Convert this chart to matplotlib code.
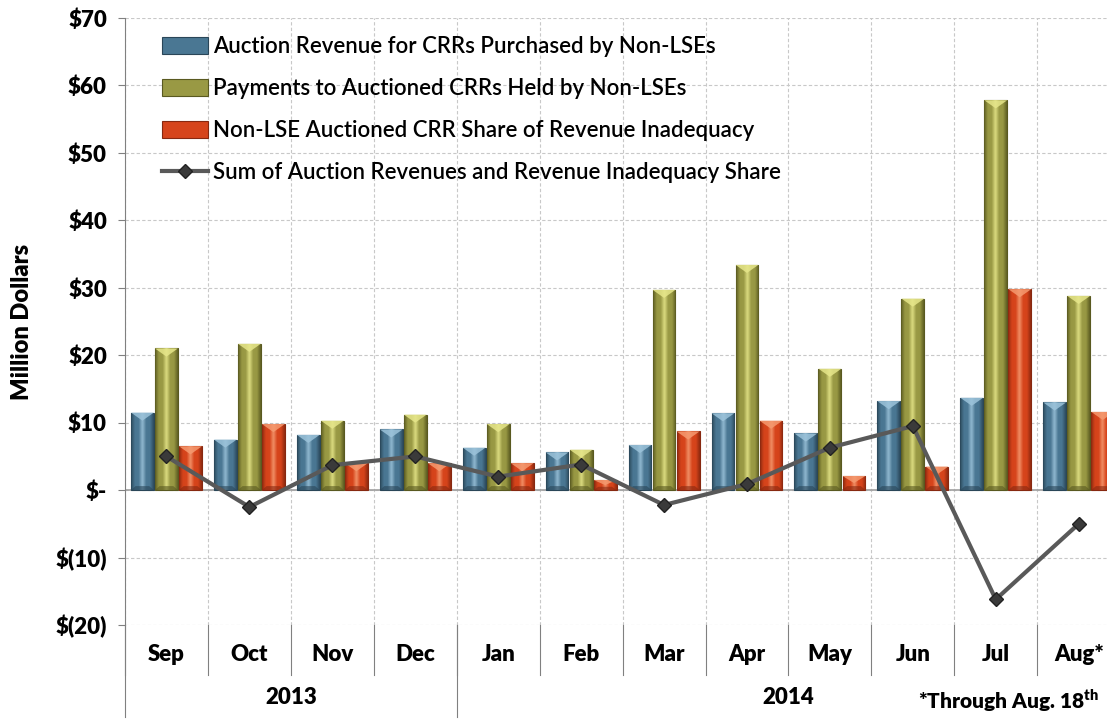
import numpy as np
import matplotlib
matplotlib.use("Agg")
import matplotlib.pyplot as plt
from matplotlib.colors import LinearSegmentedColormap
from matplotlib.patches import Polygon
from matplotlib.transforms import blended_transform_factory

plt.rcParams['font.family'] = ['Lato', 'DejaVu Sans']

months = ["Sep", "Oct", "Nov", "Dec", "Jan", "Feb", "Mar", "Apr", "May", "Jun", "Jul", "Aug*"]
years = ["2013", "2014"]
year_spans = [(0, 4), (4, 12)]

auction_rev = [11.5, 7.5, 8.2, 9.0, 6.3, 5.6, 6.7, 11.4, 8.4, 13.2, 13.7, 13.0]
payments = [21.0, 21.7, 10.3, 11.2, 9.8, 6.0, 29.7, 33.4, 18.0, 28.4, 57.8, 28.8]
inadequacy = [6.5, 9.8, 4.0, 4.0, 4.0, 1.5, 8.7, 10.3, 2.1, 3.5, 29.8, 11.6]
sum_line = [5.0, -2.5, 3.7, 5.0, 2.0, 3.8, -2.2, 0.9, 6.3, 9.5, -16.2, -5.0]

labels = ["Auction Revenue for CRRs Purchased by Non-LSEs",
          "Payments to Auctioned CRRs Held by Non-LSEs",
          "Non-LSE Auctioned CRR Share of Revenue Inadequacy",
          "Sum of Auction Revenues and Revenue Inadequacy Share"]

# (dark, main, light) for the bevelled look
styles = [("#2a4658", "#4a7793", "#9cc3da"),
          ("#595920", "#999944", "#e6e68a"),
          ("#872810", "#d6441b", "#f59a70")]

fig = plt.figure(figsize=(11.07, 7.23), dpi=100)
ax = fig.add_axes([0.1129, 0.1355, 0.899, 0.8396])

x = np.arange(len(months))
w = 0.29
series = [auction_rev, payments, inadequacy]
handles = []
for i, (vals, (dk, mn, lt)) in enumerate(zip(series, styles)):
    bars = ax.bar(x + (i - 1) * w, vals, w * 0.95, color=mn, edgecolor=dk, linewidth=0.8,
                  zorder=3, label=labels[i])
    cmap = LinearSegmentedColormap.from_list("b", [dk, mn, mn, lt, mn, mn, dk])
    grad = np.linspace(0, 1, 64).reshape(1, -1)
    for p in bars.patches:
        bx, by, bw, bh = p.get_x(), p.get_y(), p.get_width(), p.get_height()
        im = ax.imshow(grad, cmap=cmap, extent=(bx, bx + bw, by, by + bh),
                       aspect="auto", zorder=3.1, interpolation="bicubic", alpha=0.9)
        im.set_clip_path(p)
        d = min(1.2, bh / 2)
        tri = Polygon([(bx, by + bh), (bx + bw, by + bh), (bx + bw / 2, by + bh - d)],
                      closed=True, facecolor=lt, edgecolor="none", alpha=0.85, zorder=3.2)
        ax.add_patch(tri)
        bot = Polygon([(bx, by), (bx + bw, by), (bx + bw * 0.8, by + min(0.6, bh / 3)),
                       (bx + bw * 0.2, by + min(0.6, bh / 3))],
                      closed=True, facecolor=dk, edgecolor="none", alpha=0.6, zorder=3.2)
        ax.add_patch(bot)
    handles.append(bars)

ln, = ax.plot(x, sum_line, color="#595959", linewidth=3, marker="D", markersize=7,
              markerfacecolor="#3a3a3a", markeredgecolor="#222222", zorder=5,
              label=labels[3])
handles.append(ln)

ax.set_xlim(-0.5, 11.5)
ax.set_ylim(-20, 70)
yt = np.arange(-20, 71, 10)
ax.set_yticks(yt)
ax.set_yticklabels(["$(20)", "$(10)", "$-"] + [f"${v}" for v in yt[3:]],
                   fontsize=16, fontweight="heavy")
ax.tick_params(axis="y", length=5, color="#808080", pad=8)

ax.set_xticks(x)
ax.set_xticklabels([])
ax.tick_params(axis="x", length=0)
ax.set_xticks(np.arange(-0.5, 12, 1), minor=True)
ax.tick_params(axis="x", which="minor", length=0)

ax.grid(True, axis="y", color="#c8c8c8", linestyle=(0, (3, 2)), linewidth=0.8, zorder=0)
ax.grid(True, axis="x", which="minor", color="#c8c8c8", linestyle=(0, (3, 2)),
        linewidth=0.8, zorder=0)
ax.axhline(0, color="#a0a0a0", linewidth=1.2, zorder=2)

for s in ["top", "right", "bottom"]:
    ax.spines[s].set_visible(False)
ax.spines["left"].set_color("#808080")

ax.set_ylabel("Million Dollars", fontsize=17, fontweight="heavy", labelpad=16)

tr = blended_transform_factory(ax.transData, ax.transAxes)
for i, m in enumerate(months):
    ax.text(i, -0.049, m, transform=tr, ha="center", va="center",
            fontsize=16, fontweight="heavy")
for b in range(0, 13):
    ax.plot([b - 0.5, b - 0.5], [0, -0.083], transform=tr, color="#808080",
            linewidth=0.8, clip_on=False)
for (s, e), yr in zip(year_spans, years):
    ax.plot([s - 0.5, s - 0.5], [0, -0.152], transform=tr, color="#808080",
            linewidth=0.8, clip_on=False)
    ax.text((s + e - 1) / 2, -0.119, yr, transform=tr, ha="center", va="center",
            fontsize=16, fontweight="heavy")

fig.text(0.993, 0.012, r"*Through Aug. 18$^{\mathregular{th}}$", ha="right", va="bottom",
         fontsize=15, fontweight="heavy")

ax.legend(handles=handles, loc="upper left", bbox_to_anchor=(0.028, 0.985),
          frameon=False, prop={"size": 16, "weight": "semibold"},
          handlelength=2.1, handleheight=0.8,
          labelspacing=0.95, handletextpad=0.2, borderaxespad=0)

fig.savefig("out.png", dpi=100)
